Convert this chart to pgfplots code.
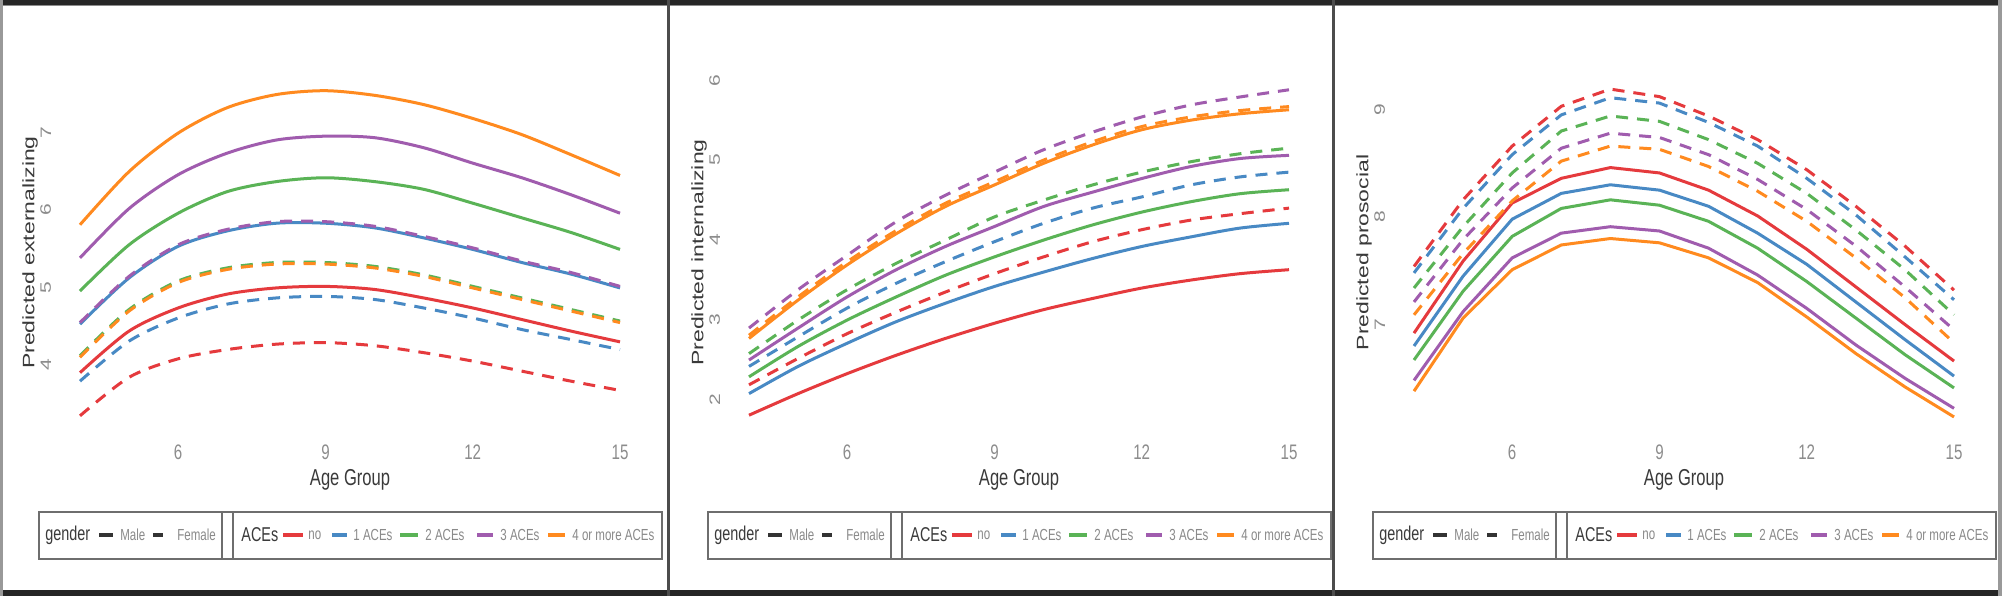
\documentclass[border=0pt]{standalone}
\usepackage{fontspec}
\setmainfont{Liberation Sans}
\newfontfamily\cf{Liberation Sans}[FakeStretch=0.72]
\usepackage{graphicx}
\usepackage{pgfplots}
\usepackage{pgfplotstable}
\pgfplotsset{compat=1.18}

\definecolor{cno}{HTML}{E53A3D}
\definecolor{cone}{HTML}{4889C4}
\definecolor{ctwo}{HTML}{5AB356}
\definecolor{cthree}{HTML}{A05CAE}
\definecolor{cfour}{HTML}{FF8A1F}
\definecolor{tickgrey}{HTML}{8C8C8C}
\definecolor{tdark}{HTML}{3A3A3A}
\definecolor{titem}{HTML}{8A8A8A}
\definecolor{lgrey}{HTML}{6E6E6E}

% externalizing
\pgfplotstableread{
age no one two three four
4  3.89 4.52 4.95 5.38 5.81
5  4.43 5.12 5.55 6.02 6.50
6  4.73 5.53 5.96 6.46 7.00
7  4.91 5.73 6.24 6.74 7.33
8  4.99 5.83 6.37 6.91 7.50
9  5.01 5.83 6.42 6.96 7.55
10 4.97 5.77 6.37 6.94 7.49
11 4.86 5.64 6.27 6.81 7.37
12 4.73 5.49 6.09 6.61 7.19
13 4.58 5.32 5.90 6.42 6.98
14 4.43 5.17 5.71 6.20 6.72
15 4.29 4.99 5.49 5.96 6.45
}\extM
\pgfplotstableread{
age no one two three four
4  3.33 3.78 4.11 4.54 4.09
5  3.83 4.30 4.71 5.14 4.69
6  4.07 4.60 5.08 5.55 5.06
7  4.19 4.78 5.25 5.75 5.23
8  4.26 4.86 5.32 5.85 5.30
9  4.28 4.88 5.32 5.85 5.30
10 4.24 4.84 5.27 5.79 5.25
11 4.15 4.73 5.16 5.66 5.14
12 4.04 4.60 5.01 5.51 4.99
13 3.91 4.45 4.86 5.34 4.84
14 3.78 4.32 4.71 5.19 4.69
15 3.66 4.19 4.56 5.01 4.54
}\extF
% internalizing
\pgfplotstableread{
age no one two three four
4  1.81 2.08 2.29 2.50 2.77
5  2.08 2.42 2.67 2.90 3.25
6  2.33 2.71 3.00 3.29 3.69
7  2.56 2.98 3.29 3.63 4.08
8  2.77 3.21 3.56 3.92 4.42
9  2.96 3.42 3.79 4.17 4.69
10 3.13 3.60 4.00 4.42 4.96
11 3.27 3.77 4.19 4.60 5.19
12 3.40 3.92 4.35 4.77 5.38
13 3.50 4.04 4.48 4.92 5.50
14 3.58 4.15 4.58 5.02 5.58
15 3.63 4.21 4.63 5.06 5.63
}\intM
\pgfplotstableread{
age no one two three four
4  2.19 2.42 2.58 2.90 2.81
5  2.52 2.79 3.00 3.38 3.29
6  2.83 3.15 3.38 3.81 3.73
7  3.10 3.46 3.71 4.23 4.12
8  3.35 3.73 4.00 4.56 4.46
9  3.58 3.98 4.29 4.85 4.73
10 3.79 4.21 4.50 5.13 5.00
11 3.98 4.40 4.69 5.35 5.23
12 4.13 4.54 4.85 5.54 5.42
13 4.25 4.69 4.98 5.69 5.54
14 4.33 4.79 5.08 5.79 5.62
15 4.40 4.85 5.15 5.88 5.67
}\intF
% prosocial
\pgfplotstableread{
age no one two three four
4  6.92 6.80 6.67 6.48 6.38
5  7.59 7.45 7.31 7.12 7.06
6  8.13 7.98 7.82 7.62 7.51
7  8.36 8.22 8.08 7.85 7.74
8  8.46 8.30 8.16 7.91 7.80
9  8.41 8.25 8.11 7.87 7.76
10 8.25 8.10 7.96 7.71 7.62
11 8.01 7.85 7.71 7.46 7.39
12 7.70 7.56 7.40 7.15 7.07
13 7.35 7.21 7.06 6.81 6.73
14 7.00 6.86 6.72 6.50 6.42
15 6.66 6.52 6.41 6.22 6.14
}\proM
\pgfplotstableread{
age no one two three four
4  7.54 7.48 7.34 7.21 7.09
5  8.16 8.08 7.91 7.79 7.66
6  8.66 8.58 8.41 8.27 8.15
7  9.03 8.95 8.80 8.64 8.52
8  9.19 9.11 8.94 8.78 8.66
9  9.12 9.06 8.89 8.74 8.63
10 8.94 8.88 8.72 8.58 8.47
11 8.72 8.66 8.50 8.35 8.24
12 8.44 8.36 8.22 8.07 7.96
13 8.10 8.02 7.88 7.73 7.62
14 7.73 7.63 7.51 7.35 7.25
15 7.32 7.23 7.09 6.95 6.83
}\proF

\pgfplotsset{
  panel/.style={
    scale only axis, width=297bp, height=179.5bp, anchor=south west,
    xmin=3.45, xmax=15.55, xtick={6,9,12,15},
    axis line style={draw=none}, major tick length=0pt,
    /pgf/number format/assume math mode=true,
    tick label style={font=\fontsize{10.5bp}{12bp}\selectfont, text=tickgrey},
    xticklabel={\cf\pgfmathprintnumber{\tick}},
    yticklabel={\scalebox{1}[0.72]{\pgfmathprintnumber{\tick}}},
    xticklabel style={anchor=center, yshift=-10bp},
    yticklabel style={rotate=90, anchor=south, inner sep=0.8bp},
    xlabel={\cf Age Group},
    xlabel style={at={(axis description cs:0.5,0)}, anchor=center, yshift=-24bp,
      font=\fontsize{11.5bp}{13bp}\selectfont, text=tdark},
    ylabel style={at={(axis description cs:-0.0387,0.5)}, anchor=center,
      font=\fontsize{11.5bp}{13bp}\selectfont, text=tdark},
    every axis plot/.append style={line width=1.5bp},
  },
  fem/.style={dash pattern=on 6bp off 4.5bp},
}

\newcommand\ltitle{\fontsize{10bp}{11bp}\selectfont\cf}
\newcommand\litem{\fontsize{8bp}{9bp}\selectfont\cf}
\newcommand\legendat[1]{%
\begin{scope}[xshift=#1]
  \draw[lgrey, line width=0.75bp] (19.5bp,18.5bp) rectangle (331bp,42bp);
  \draw[lgrey, line width=0.75bp] (111bp,18.5bp) -- (111bp,42bp) (116.5bp,18.5bp) -- (116.5bp,42bp);
  \node[anchor=west, inner sep=0, text=tdark, font=\ltitle] at (22.5bp,30.5bp) {gender};
  \draw[black!80, line width=2bp] (49.5bp,30.5bp) -- (56.5bp,30.5bp);
  \node[anchor=west, inner sep=0, text=titem, font=\litem] at (60bp,30.5bp) {Male};
  \draw[black!80, line width=2bp] (76.5bp,30.5bp) -- (81.5bp,30.5bp);
  \node[anchor=west, inner sep=0, text=titem, font=\litem] at (88.5bp,30.5bp) {Female};
  \node[anchor=west, inner sep=0, text=tdark, font=\ltitle] at (120.5bp,30.5bp) {ACEs};
  \draw[cno, line width=2bp] (141.5bp,30.5bp) -- (151.5bp,30.5bp);
  \node[anchor=west, inner sep=0, text=titem, font=\litem] at (154bp,30.5bp) {no};
  \draw[cone, line width=2bp] (166bp,30.5bp) -- (173.5bp,30.5bp);
  \node[anchor=west, inner sep=0, text=titem, font=\litem] at (176.5bp,30.5bp) {1 ACEs};
  \draw[ctwo, line width=2bp] (200bp,30.5bp) -- (209bp,30.5bp);
  \node[anchor=west, inner sep=0, text=titem, font=\litem] at (212.5bp,30.5bp) {2 ACEs};
  \draw[cthree, line width=2bp] (238.5bp,30.5bp) -- (246.5bp,30.5bp);
  \node[anchor=west, inner sep=0, text=titem, font=\litem] at (250bp,30.5bp) {3 ACEs};
  \draw[cfour, line width=2bp] (274bp,30.5bp) -- (282.5bp,30.5bp);
  \node[anchor=west, inner sep=0, text=titem, font=\litem] at (286bp,30.5bp) {4 or more ACEs};
\end{scope}}

\newcommand\drawset[3]{% solid table, dashed table, smooth option
  \addplot[cno, #3] table[x=age, y=no] {#1};
  \addplot[cone, #3] table[x=age, y=one] {#1};
  \addplot[ctwo, #3] table[x=age, y=two] {#1};
  \addplot[cthree, #3] table[x=age, y=three] {#1};
  \addplot[cfour, #3] table[x=age, y=four] {#1};
  \addplot[cno, fem, #3] table[x=age, y=no] {#2};
  \addplot[cone, fem, #3] table[x=age, y=one] {#2};
  \addplot[ctwo, fem, #3] table[x=age, y=two] {#2};
  \addplot[cthree, fem, #3] table[x=age, y=three] {#2};
  \addplot[cfour, fem, #3] table[x=age, y=four] {#2};
}

\begin{document}
\begin{tikzpicture}
\useasboundingbox (0,0) rectangle (1001bp,298bp);
\fill[white] (0,0) rectangle (1001bp,298bp);

\begin{axis}[panel, at={(26.5bp,82bp)},
  ymin=3.12, ymax=7.78, ytick={4,5,6,7},
  ylabel={\scalebox{1}[0.72]{Predicted externalizing}}]
\drawset{\extM}{\extF}{smooth}
\end{axis}

\begin{axis}[panel, at={(361bp,82bp)},
  ymin=1.6, ymax=6.09, ytick={2,3,4,5,6},
  ylabel={\scalebox{1}[0.72]{Predicted internalizing}}]
\drawset{\intM}{\intF}{smooth}
\end{axis}

\begin{axis}[panel, at={(693.5bp,82bp)},
  ymin=6.0, ymax=9.34, ytick={7,8,9},
  ylabel={\scalebox{1}[0.72]{Predicted prosocial}}]
\drawset{\proM}{\proF}{sharp plot}
\end{axis}

\legendat{0bp}
\legendat{334.5bp}
\legendat{667bp}

% frame
\fill[black!85] (0,295.5bp) rectangle (1001bp,298bp);
\fill[black!45] (0,294.8bp) rectangle (1001bp,295.5bp);
\fill[black!85] (0,0) rectangle (1001bp,3bp);
\fill[black!40] (0,0) rectangle (1.5bp,298bp);
\fill[black!40] (999.2bp,0) rectangle (1001bp,298bp);
\fill[black!70] (333.3bp,0) rectangle (334.8bp,298bp);
\fill[black!70] (665.8bp,0) rectangle (667.3bp,298bp);
\end{tikzpicture}
\end{document}
